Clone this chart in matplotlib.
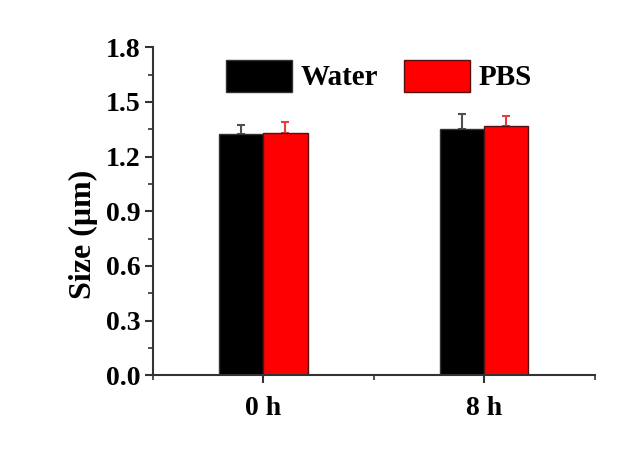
import numpy as np
import matplotlib
matplotlib.use("Agg")
from matplotlib import pyplot as plt
from matplotlib.ticker import MultipleLocator

# ======== Data ========
times = ["0 h", "8 h"]
water_mean = [1.322, 1.352]
water_err = [0.050, 0.080]
pbs_mean = [1.328, 1.366]
pbs_err = [0.064, 0.057]

plt.rcParams['font.family'] = ['Liberation Serif', 'DejaVu Serif']
plt.rcParams['font.weight'] = 'bold'

fig = plt.figure(figsize=(6.4, 4.57), dpi=100)
ax = fig.add_axes([0.239, 0.179, 0.690, 0.7175])

x = np.arange(1, len(times) + 1)
w = 0.2
ax.bar(x - w / 2, water_mean, w, color='black', edgecolor='#333333', linewidth=1,
       label='Water', zorder=2)
ax.bar(x + w / 2, pbs_mean, w, color='#ff0000', edgecolor='#551111', linewidth=1,
       label='PBS', zorder=2)
ax.errorbar(x - w / 2, water_mean, yerr=[np.zeros(len(x)), water_err], fmt='none',
            ecolor='#505050', elinewidth=1.5, capsize=3, capthick=1.5, zorder=1)
ax.errorbar(x + w / 2, pbs_mean, yerr=[np.zeros(len(x)), pbs_err], fmt='none',
            ecolor='#e04040', elinewidth=1.5, capsize=3, capthick=1.5, zorder=1)

ax.set_xlim(0.5, 2.5)
ax.set_ylim(0, 1.8)
ax.set_xticks(x)
ax.set_xticklabels(times)
ax.xaxis.set_minor_locator(MultipleLocator(0.5))
ax.yaxis.set_major_locator(MultipleLocator(0.3))
ax.yaxis.set_minor_locator(MultipleLocator(0.15))
ax.tick_params(axis='both', which='major', direction='out', length=6, width=1.5,
               labelsize=20, color='#333333')
ax.tick_params(axis='both', which='minor', direction='out', length=3.5, width=1.2,
               color='#333333')
ax.tick_params(axis='x', which='major', pad=9)
ax.tick_params(axis='y', which='major', pad=3)
for lab in ax.get_xticklabels() + ax.get_yticklabels():
    lab.set_fontweight('bold')

for s in ['top', 'right']:
    ax.spines[s].set_visible(False)
for s in ['left', 'bottom']:
    ax.spines[s].set_linewidth(1.5)
    ax.spines[s].set_color('#333333')

ax.set_ylabel('Size (μm)', fontsize=23, fontweight='bold')
ax.yaxis.set_label_coords(-0.125, 0.43)

leg = ax.legend(loc='upper left', bbox_to_anchor=(0.166, 0.962), ncol=2, frameon=False,
                prop={'size': 21, 'weight': 'bold'}, handlelength=2.25, handleheight=1.3,
                handletextpad=0.3, columnspacing=0.9, borderpad=0, borderaxespad=0)

plt.savefig("out.png", dpi=100)
